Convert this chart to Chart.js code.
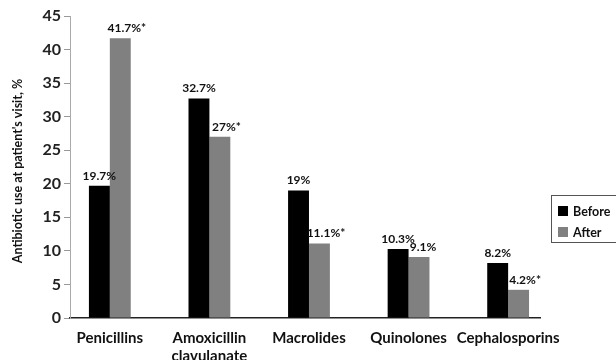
<!DOCTYPE html>
<html>
<head>
<meta charset="utf-8">
<script src="https://cdn.jsdelivr.net/npm/chart.js@4/dist/chart.umd.min.js"></script>
<style>
  html, body { margin: 0; padding: 0; background: #fff; }
  #wrap { width: 616px; height: 360px; position: relative; }
</style>
</head>
<body>
<div id="wrap"><canvas id="c" width="616" height="360"></canvas></div>
<script>
// Antibiotic classes (multi-line labels as arrays)
const categories = [
  'Penicillins',
  ['Amoxicillin', 'clavulanate'],
  'Macrolides',
  'Quinolones',
  'Cephalosporins'
];
const seriesNames = ['Before', 'After'];
const beforeValues = [19.7, 32.7, 19, 10.3, 8.2];
const afterValues = [41.7, 27, 11.1, 9.1, 4.2];
// Statistically significant change after the intervention
const afterSignificant = [true, true, true, false, true];
const yTicks = [0, 5, 10, 15, 20, 25, 30, 35, 40, 45];
const yTitle = "Antibiotic use at patient's visit, %";

const FONT = 'Lato, "Open Sans", sans-serif';

const toPoints = vals => vals.map((v, i) => ({ x: i, y: v }));

// Percent labels above each bar; "after" labels carry an asterisk when significant
const valueLabels = {
  id: 'valueLabels',
  afterDatasetsDraw(chart) {
    const ctx = chart.ctx;
    ctx.save();
    ctx.font = 'bold 12px ' + FONT;
    ctx.fillStyle = '#111';
    ctx.textBaseline = 'bottom';
    ctx.textAlign = 'left';
    chart.data.datasets.forEach((ds, di) => {
      const meta = chart.getDatasetMeta(di);
      meta.data.forEach((bar, i) => {
        const v = ds.data[i].y;
        const star = di === 1 && afterSignificant[i];
        const txt = v + '%';
        const w = ctx.measureText(txt).width;
        const shift = di === 1 ? 4 : 0;
        ctx.fillText(txt + (star ? '*' : ''), bar.x - w / 2 + shift, bar.y - 4);
      });
    });
    ctx.restore();
  }
};

// Rotated y-axis title
const yAxisTitle = {
  id: 'yAxisTitle',
  afterDraw(chart) {
    const ctx = chart.ctx;
    const ys = chart.scales.y;
    ctx.save();
    ctx.translate(18, (ys.top + ys.bottom) / 2 + 4);
    ctx.rotate(-Math.PI / 2);
    ctx.font = 'bold 12.5px ' + FONT;
    ctx.fillStyle = '#111';
    ctx.textAlign = 'center';
    ctx.textBaseline = 'middle';
    ctx.fillText(yTitle, 0, 0);
    ctx.restore();
  }
};

// Framed legend box at the right of the plot
const boxLegend = {
  id: 'boxLegend',
  afterDraw(chart) {
    const ctx = chart.ctx;
    ctx.save();
    const x = 551, y = 195, w = 70, h = 47;
    ctx.strokeStyle = '#555';
    ctx.lineWidth = 1;
    ctx.strokeRect(x + 0.5, y + 0.5, w, h);
    ctx.font = 'bold 12.5px ' + FONT;
    ctx.textBaseline = 'middle';
    ctx.textAlign = 'left';
    chart.data.datasets.forEach((ds, i) => {
      const cy = y + 16 + i * 21;
      ctx.fillStyle = ds.backgroundColor;
      ctx.fillRect(x + 7, cy - 5, 10, 10);
      ctx.fillStyle = '#111';
      ctx.fillText(ds.label, x + 22, cy + 1);
    });
    ctx.restore();
  }
};

new Chart(document.getElementById('c'), {
  type: 'bar',
  data: {
    datasets: [
      { label: seriesNames[0], data: toPoints(beforeValues), backgroundColor: '#000000', borderWidth: 0 },
      { label: seriesNames[1], data: toPoints(afterValues), backgroundColor: '#808080', borderWidth: 0 }
    ]
  },
  options: {
    responsive: false,
    animation: false,
    devicePixelRatio: 1,
    layout: { padding: { left: 0, right: 76, top: 16, bottom: 0 } },
    categoryPercentage: 0.42,
    barPercentage: 1.0,
    plugins: {
      legend: { display: false },
      tooltip: { enabled: false }
    },
    scales: {
      x: {
        type: 'linear',
        offset: false,
        min: -0.4,
        max: 4.32,
        afterBuildTicks(scale) {
          scale.ticks = categories.map((_, i) => ({ value: i }));
        },
        afterFit(scale) { scale.height = 42; },
        grid: { display: true, offset: false, drawOnChartArea: false, drawTicks: false },
        border: { display: true, color: '#222', width: 1.5 },
        ticks: {
          autoSkip: false,
          maxRotation: 0,
          padding: 11,
          color: '#111',
          font: { family: FONT, size: 15, weight: 'bold' },
          callback: v => categories[v]
        }
      },
      y: {
        min: 0,
        max: 45,
        afterBuildTicks(scale) {
          scale.ticks = yTicks.map(v => ({ value: v }));
        },
        afterFit(scale) { scale.width = 70; },
        grid: { drawOnChartArea: false, drawTicks: true, tickLength: 6, color: '#999' },
        border: { display: true, color: '#aaa', width: 1 },
        ticks: {
          padding: 3,
          color: '#222',
          font: { family: FONT, size: 16, weight: 'bold' }
        }
      }
    }
  },
  plugins: [valueLabels, yAxisTitle, boxLegend]
});
</script>
</body>
</html>
